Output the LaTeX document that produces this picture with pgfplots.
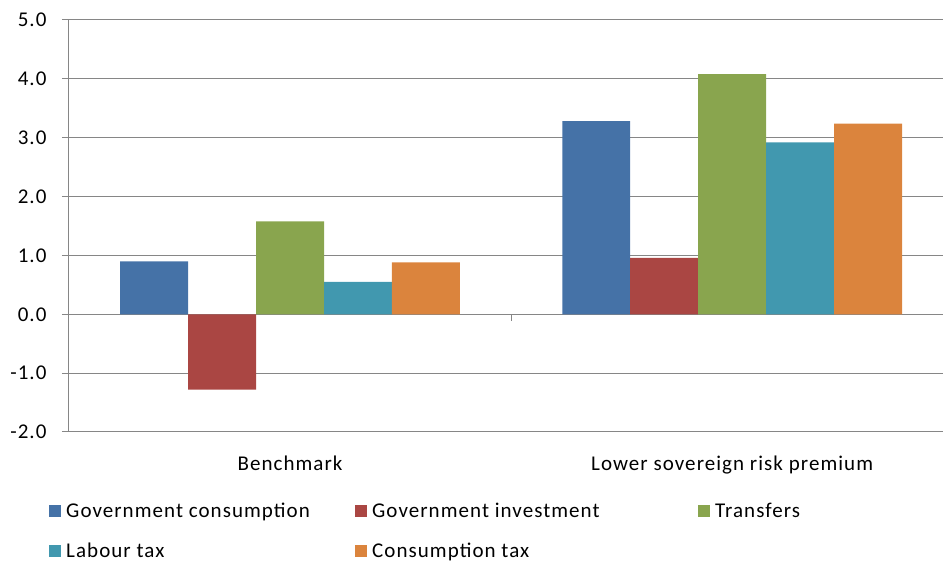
\documentclass[border=0pt]{standalone}
\usepackage{pgfplots}
\pgfplotsset{compat=1.18}
\usepackage{fontspec}
\setmainfont{Carlito}[LetterSpace=5]
\definecolor{c1}{HTML}{4572A7}
\definecolor{c2}{HTML}{AA4643}
\definecolor{c3}{HTML}{89A54E}
\definecolor{c4}{HTML}{4198AF}
\definecolor{c5}{HTML}{DB843D}
\definecolor{gridc}{HTML}{868686}
\begin{document}
\begin{tikzpicture}
\begin{axis}[
  scale only axis, width=874pt, height=412pt,
  xmin=-0.5, xmax=1.477, ymin=-2, ymax=5,
  ytick={-2,-1,0,1,2,3,4,5},
  xtick={0,1}, xticklabels={Benchmark, Lower sovereign risk premium},
  axis x line*=bottom, axis y line*=left,
  ybar=0pt, bar width=0.1537,
  ymajorgrids, grid style={gridc, line width=1pt},
  axis line style={gridc, line width=1pt, -},
  y tick style={gridc, line width=1pt},
  major tick length=7pt, tick align=outside,
  x tick style={draw=none},
  /pgf/number format/assume math mode=true,
  y tick label style={xshift=-12pt, /pgf/number format/fixed, /pgf/number format/fixed zerofill, /pgf/number format/precision=1},
  x tick label style={yshift=-13pt},
  tick label style={font=\fontsize{21}{25}\selectfont},
  legend columns=3,
  legend style={draw=none, at={(axis description cs:0,0)}, anchor=north west, xshift=-23pt, yshift=-66pt,
    font=\fontsize{21}{25}\selectfont, column sep=0pt, row sep=19pt,
    nodes={inner xsep=5pt, inner ysep=2.5pt, anchor=west}},
  legend image code/.code={\fill[#1, draw=none] (0pt,-6pt) rectangle (12pt,6pt);},
]
\addplot[fill=c1, draw=none] coordinates {(0,0.90) (1,3.28)};
\addlegendentry{\makebox[284pt][l]{Government consumption}}
\addplot[fill=c2, draw=none] coordinates {(0,-1.28) (1,0.96)};
\addlegendentry{\makebox[321pt][l]{Government investment}}
\addplot[fill=c3, draw=none] coordinates {(0,1.58) (1,4.08)};
\addlegendentry{Transfers}
\addplot[fill=c4, draw=none] coordinates {(0,0.55) (1,2.92)};
\addlegendentry{\makebox[284pt][l]{Labour tax}}
\addplot[fill=c5, draw=none] coordinates {(0,0.88) (1,3.24)};
\addlegendentry{\makebox[321pt][l]{Consumption tax}}
\draw[gridc, line width=1pt] (axis cs:0.5,0) -- ([yshift=-7pt]axis cs:0.5,0);
\end{axis}
\pgfresetboundingbox
\path ([xshift=-69pt,yshift=-130pt]current axis.south west) rectangle ([yshift=20pt]current axis.north east);
\end{tikzpicture}
\end{document}
